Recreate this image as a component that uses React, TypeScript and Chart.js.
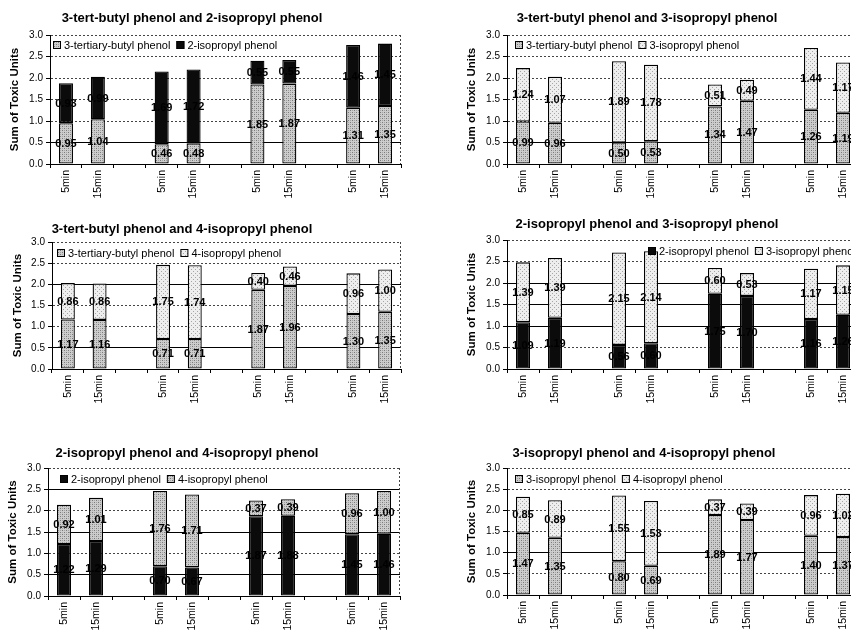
import React, { useEffect, useRef } from 'react';
import { Chart, registerables } from 'chart.js';

Chart.register(...registerables);
const FAMILY = '"Liberation Sans", Arial, Helvetica, sans-serif';
Chart.defaults.font.family = FAMILY;
Chart.defaults.color = '#000';

// ---------- data ----------
const timeLabels = ['5min', '15min', '', '5min', '15min', '', '5min', '15min', '', '5min', '15min'];
const yAxisTitle = 'Sum of Toxic Units';
const yMin = 0;
const yMax = 3;
const yStep = 0.5;

const title1 = '3-tert-butyl phenol and 2-isopropyl phenol';
const names1 = ['3-tertiary-butyl phenol', '2-isopropyl phenol'];
const lower1 = [0.95, 1.04, 0.46, 0.48, 1.85, 1.87, 1.31, 1.35];
const upper1 = [0.93, 0.99, 1.69, 1.72, 0.55, 0.55, 1.46, 1.45];

const title2 = '3-tert-butyl phenol and 3-isopropyl phenol';
const names2 = ['3-tertiary-butyl phenol', '3-isopropyl phenol'];
const lower2 = [0.99, 0.96, 0.50, 0.53, 1.34, 1.47, 1.26, 1.19];
const upper2 = [1.24, 1.07, 1.89, 1.78, 0.51, 0.49, 1.44, 1.17];

const title3 = '3-tert-butyl phenol and 4-isopropyl phenol';
const names3 = ['3-tertiary-butyl phenol', '4-isopropyl phenol'];
const lower3 = [1.17, 1.16, 0.71, 0.71, 1.87, 1.96, 1.30, 1.35];
const upper3 = [0.86, 0.86, 1.75, 1.74, 0.40, 0.46, 0.96, 1.00];

const title4 = '2-isopropyl phenol and 3-isopropyl phenol';
const names4 = ['2-isopropyl phenol', '3-isopropyl phenol'];
const lower4 = [1.09, 1.19, 0.56, 0.60, 1.75, 1.70, 1.16, 1.26];
const upper4 = [1.39, 1.39, 2.15, 2.14, 0.60, 0.53, 1.17, 1.15];

const title5 = '2-isopropyl phenol and 4-isopropyl phenol';
const names5 = ['2-isopropyl phenol', '4-isopropyl phenol'];
const lower5 = [1.22, 1.29, 0.70, 0.67, 1.87, 1.88, 1.45, 1.46];
const upper5 = [0.92, 1.01, 1.76, 1.71, 0.37, 0.39, 0.96, 1.00];

const title6 = '3-isopropyl phenol and 4-isopropyl phenol';
const names6 = ['3-isopropyl phenol', '4-isopropyl phenol'];
const lower6 = [1.47, 1.35, 0.80, 0.69, 1.89, 1.77, 1.40, 1.37];
const upper6 = [0.85, 0.89, 1.55, 1.53, 0.37, 0.39, 0.96, 1.02];

function spread(values: number[]): (number | null)[] {
  let k = 0;
  return timeLabels.map((l) => (l === '' ? null : values[k++]));
}

// ---------- layout / style ----------
type Fill = 'black' | 'medium' | 'light';
type Box = { left: number; top: number; width: number; height: number };
type Plot = { left: number; top: number; right: number; bottom: number };
type PanelSpec = {
  title: string;
  names: string[];
  lower: number[];
  upper: number[];
  fills: Fill[];
  box: Box;
  plot: Plot;
  titlePos: [number, number];
  legendPos: [number, number];
  yTitleX: number;
  solid: number[];
};

const panels: PanelSpec[] = [
  {
    title: title1, names: names1, lower: lower1, upper: upper1, fills: ['medium', 'black'],
    box: { left: 0, top: 0, width: 425, height: 210 },
    plot: { left: 50, top: 35, right: 401, bottom: 164 },
    titlePos: [192, 18], legendPos: [53, 45], yTitleX: 15, solid: [0.5],
  },
  {
    title: title2, names: names2, lower: lower2, upper: upper2, fills: ['medium', 'light'],
    box: { left: 425, top: 0, width: 445, height: 210 },
    plot: { left: 507, top: 35, right: 859, bottom: 164 },
    titlePos: [647, 18], legendPos: [515, 45], yTitleX: 472, solid: [0.5],
  },
  {
    title: title3, names: names3, lower: lower3, upper: upper3, fills: ['medium', 'light'],
    box: { left: 0, top: 210, width: 425, height: 210 },
    plot: { left: 52, top: 242, right: 401, bottom: 369 },
    titlePos: [182, 229], legendPos: [57, 253], yTitleX: 18, solid: [2, 0.5],
  },
  {
    title: title4, names: names4, lower: lower4, upper: upper4, fills: ['black', 'light'],
    box: { left: 425, top: 210, width: 445, height: 210 },
    plot: { left: 507, top: 240, right: 859, bottom: 369 },
    titlePos: [647, 224], legendPos: [648, 251], yTitleX: 472, solid: [2, 1.5, 1],
  },
  {
    title: title5, names: names5, lower: lower5, upper: upper5, fills: ['black', 'medium'],
    box: { left: 0, top: 420, width: 425, height: 230 },
    plot: { left: 48, top: 468, right: 400, bottom: 596 },
    titlePos: [187, 453], legendPos: [60, 479], yTitleX: 13, solid: [2.5, 1.5, 0.5],
  },
  {
    title: title6, names: names6, lower: lower6, upper: upper6, fills: ['medium', 'light'],
    box: { left: 425, top: 420, width: 445, height: 230 },
    plot: { left: 507, top: 468, right: 859, bottom: 595 },
    titlePos: [644, 453], legendPos: [515, 479], yTitleX: 472, solid: [1],
  },
];

function makeFill(kind: Fill): string | CanvasPattern {
  if (kind === 'black') return '#0b0b0b';
  const c = document.createElement('canvas');
  c.width = 4;
  c.height = 4;
  const g = c.getContext('2d')!;
  if (kind === 'medium') {
    g.fillStyle = '#cdcdcd';
    g.fillRect(0, 0, 4, 4);
    g.fillStyle = '#7a7a7a';
    g.fillRect(0, 0, 1, 1);
    g.fillRect(2, 2, 1, 1);
    g.fillStyle = '#a4a4a4';
    g.fillRect(2, 0, 1, 1);
    g.fillRect(0, 2, 1, 1);
  } else {
    g.fillStyle = '#eeeeee';
    g.fillRect(0, 0, 4, 4);
    g.fillStyle = '#a6a6a6';
    g.fillRect(1, 1, 1, 1);
    g.fillRect(3, 3, 1, 1);
  }
  return g.createPattern(c, 'repeat')!;
}

function Panel({ p }: { p: PanelSpec }) {
  const ref = useRef<HTMLCanvasElement>(null);
  useEffect(() => {
    const canvas = ref.current!;
    const fills = p.fills.map(makeFill);
    const { box, plot } = p;
    const yTitleSize = 11.5;

    const decor = {
      id: 'decor',
      afterDatasetsDraw(chart: any) {
        const ctx = chart.ctx;
        ctx.save();
        ctx.font = `bold 11px ${FAMILY}`;
        ctx.fillStyle = '#000';
        ctx.textAlign = 'center';
        ctx.textBaseline = 'middle';
        chart.data.datasets.forEach((ds: any, di: number) => {
          const meta = chart.getDatasetMeta(di);
          meta.data.forEach((el: any, i: number) => {
            const v = ds.data[i];
            if (v === null || v === undefined) return;
            const { x, y, base } = el.getProps(['x', 'y', 'base'], true);
            ctx.fillText(Number(v).toFixed(2), x, (y + base) / 2 + 0.5);
          });
        });
        ctx.restore();
      },
      afterDraw(chart: any) {
        const ctx = chart.ctx;
        const area = chart.chartArea;
        ctx.save();
        // right border of plot area (dotted)
        ctx.strokeStyle = '#444';
        ctx.lineWidth = 1;
        ctx.setLineDash([2, 2]);
        ctx.beginPath();
        ctx.moveTo(area.right - 0.5, area.top);
        ctx.lineTo(area.right - 0.5, area.bottom);
        ctx.stroke();
        ctx.setLineDash([]);
        // title
        ctx.font = `bold 13px ${FAMILY}`;
        ctx.fillStyle = '#000';
        ctx.textAlign = 'center';
        ctx.textBaseline = 'middle';
        ctx.fillText(p.title, p.titlePos[0] - box.left, p.titlePos[1] - box.top);
        // legend
        ctx.font = `11px ${FAMILY}`;
        ctx.textAlign = 'left';
        let x = p.legendPos[0] - box.left;
        const y = p.legendPos[1] - box.top;
        p.names.forEach((name, i) => {
          ctx.fillStyle = fills[i];
          ctx.fillRect(x, y - 4, 8, 8);
          ctx.strokeStyle = '#000';
          ctx.strokeRect(x + 0.5, y - 3.5, 7, 7);
          ctx.fillStyle = '#000';
          ctx.fillText(name, x + 11, y + 0.5);
          x += 11 + ctx.measureText(name).width + 6;
        });
        ctx.restore();
      },
    };

    const isSolid = (ctx: any) => !!ctx.tick && p.solid.includes(ctx.tick.value);

    const chart = new Chart(canvas, {
      type: 'bar',
      data: {
        labels: timeLabels,
        datasets: [
          {
            label: p.names[0],
            data: spread(p.lower),
            backgroundColor: fills[0] as any,
            borderColor: '#000',
            borderWidth: 1.3,
            borderSkipped: false,
            barPercentage: 0.44,
            categoryPercentage: 1,
          },
          {
            label: p.names[1],
            data: spread(p.upper),
            backgroundColor: fills[1] as any,
            borderColor: '#000',
            borderWidth: 1.3,
            borderSkipped: false,
            barPercentage: 0.44,
            categoryPercentage: 1,
          },
        ],
      },
      options: {
        responsive: false,
        animation: false,
        devicePixelRatio: 1,
        layout: {
          padding: {
            left: 0,
            top: plot.top - box.top,
            right: box.left + box.width - plot.right,
            bottom: 0,
          },
        },
        plugins: {
          legend: { display: false },
          title: { display: false },
          tooltip: { enabled: false },
        },
        scales: {
          x: {
            stacked: true,
            grid: {
              display: true,
              drawOnChartArea: false,
              drawTicks: true,
              tickLength: 4,
              color: '#000',
              offset: true,
            },
            border: { display: true, color: '#000', width: 1 },
            ticks: {
              autoSkip: false,
              minRotation: 90,
              maxRotation: 90,
              padding: 2,
              color: '#000',
              font: { size: 10.5 },
            },
            afterFit: (s: any) => {
              s.height = box.top + box.height - plot.bottom;
            },
          },
          y: {
            stacked: true,
            min: yMin,
            max: yMax,
            ticks: {
              stepSize: yStep,
              padding: 3,
              color: '#000',
              font: { size: 10 },
              callback: (v: any) => Number(v).toFixed(1),
            },
            grid: {
              color: (ctx: any) => (isSolid(ctx) ? '#000' : '#444'),
              tickLength: 4,
              tickColor: '#000',
              lineWidth: 1,
            },
            border: {
              display: true,
              color: '#000',
              width: 1,
              dash: (ctx: any) => (isSolid(ctx) ? [] : [2, 2]),
            } as any,
            title: {
              display: true,
              text: yAxisTitle,
              color: '#000',
              font: { size: yTitleSize, weight: 'bold' },
              padding: { top: p.yTitleX - box.left - (yTitleSize * 1.2) / 2, bottom: 0 },
            },
            afterFit: (s: any) => {
              s.width = plot.left - box.left;
            },
          },
        },
      } as any,
      plugins: [decor],
    });
    return () => chart.destroy();
  }, [p]);

  return (
    <canvas
      ref={ref}
      width={p.box.width}
      height={p.box.height}
      style={{
        position: 'absolute',
        left: p.box.left,
        top: p.box.top,
        width: p.box.width,
        height: p.box.height,
      }}
    />
  );
}

export default function App() {
  return (
    <div
      style={{
        position: 'fixed',
        left: 0,
        top: 0,
        width: 851,
        height: 633,
        overflow: 'hidden',
        background: '#fff',
      }}
    >
      {panels.map((p, i) => (
        <Panel key={i} p={p} />
      ))}
    </div>
  );
}
